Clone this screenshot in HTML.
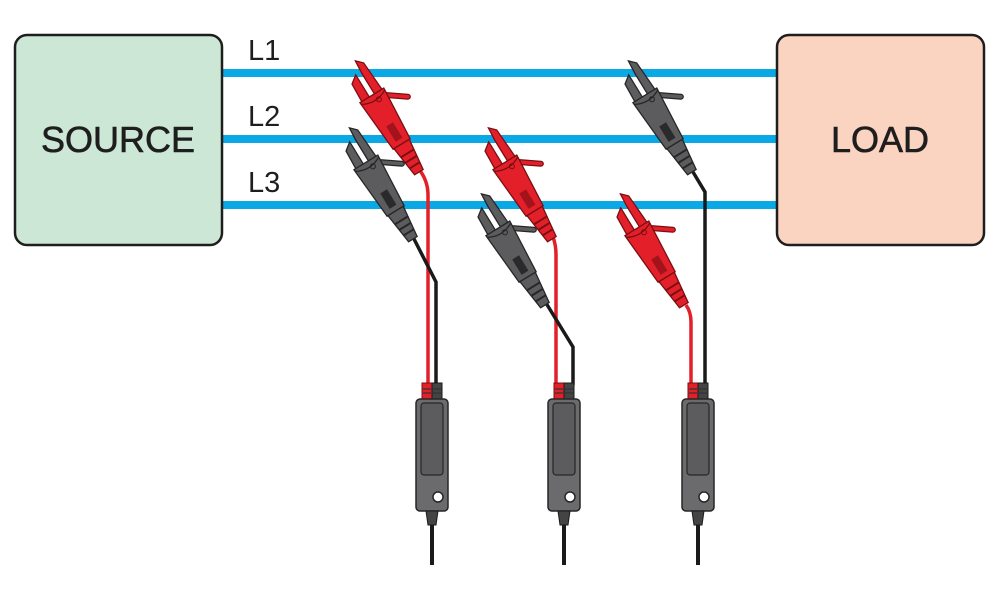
<!DOCTYPE html>
<html><head><meta charset="utf-8"><style>
html,body{margin:0;padding:0;background:#fff;}
svg{display:block;}
text{font-family:"Liberation Sans",Arial,sans-serif;}
</style></head><body>
<svg width="1000" height="600" viewBox="0 0 1000 600" xmlns="http://www.w3.org/2000/svg">
<defs>
<g id="clipR">
  <path d="M0,-4 L6,-10 L42,-12 L42,-3 L14,-3 Z" fill="#e3202a" stroke="#7a0e12" stroke-width="1.3"/>
  <path d="M12,3 L42,3 L42,12 L18,11 Z" fill="#e3202a" stroke="#7a0e12" stroke-width="1.3"/>
  <path d="M42,-8 L58,-30" stroke="#7a0e12" stroke-width="6" stroke-linecap="round"/>
  <path d="M42,-8 L58,-30" stroke="#e3202a" stroke-width="3.5" stroke-linecap="round"/>
  <path d="M38,-14 L95,-10 L95,10 L38,14 Z" fill="#e3202a" stroke="#7a0e12" stroke-width="1.3"/>
  <path d="M40,-14 Q48,0 40,14" fill="none" stroke="#7a0e12" stroke-width="1.3"/>
  <circle cx="45" cy="-4" r="2.5" fill="none" stroke="#7a0e12" stroke-width="1"/>
  <path d="M72,-4 L90,-4 L90,4 L72,4 Z" fill="#a3131b"/>
  <path d="M95,-9 L128,-5 L128,5 L95,9 Z" fill="#e3202a" stroke="#7a0e12" stroke-width="1.3"/>
  <path d="M106,-8 V8 M113,-7 V7 M120,-6 V6" stroke="#7a0e12" stroke-width="2"/>
</g>
<g id="clipG">
  <path d="M0,-4 L6,-10 L42,-12 L42,-3 L14,-3 Z" fill="#5c5c5e" stroke="#262626" stroke-width="1.3"/>
  <path d="M12,3 L42,3 L42,12 L18,11 Z" fill="#5c5c5e" stroke="#262626" stroke-width="1.3"/>
  <path d="M42,-8 L58,-30" stroke="#262626" stroke-width="6" stroke-linecap="round"/>
  <path d="M42,-8 L58,-30" stroke="#5c5c5e" stroke-width="3.5" stroke-linecap="round"/>
  <path d="M38,-14 L95,-10 L95,10 L38,14 Z" fill="#5c5c5e" stroke="#262626" stroke-width="1.3"/>
  <path d="M40,-14 Q48,0 40,14" fill="none" stroke="#262626" stroke-width="1.3"/>
  <circle cx="45" cy="-4" r="2.5" fill="none" stroke="#262626" stroke-width="1"/>
  <path d="M72,-4 L90,-4 L90,4 L72,4 Z" fill="#2a2a2a"/>
  <path d="M95,-9 L128,-5 L128,5 L95,9 Z" fill="#5c5c5e" stroke="#262626" stroke-width="1.3"/>
  <path d="M106,-8 V8 M113,-7 V7 M120,-6 V6" stroke="#262626" stroke-width="2"/>
</g>
<g id="probe">
  <rect x="0" y="0" width="10" height="17" fill="#e3202a" stroke="#7a0e12" stroke-width="1"/>
  <rect x="10" y="0" width="10" height="17" fill="#444" stroke="#1a1a1a" stroke-width="1"/>
  <path d="M1,6 H9 M1,10 H9 M11,6 H19 M11,10 H19" stroke="#333" stroke-width="1.2"/>
  <rect x="-6" y="16" width="32" height="112" rx="4" fill="#6b6b6d" stroke="#262626" stroke-width="1.5"/>
  <rect x="-1" y="20" width="22" height="72" rx="3" fill="#5c5c5e" stroke="#262626" stroke-width="1.2"/>
  <circle cx="16" cy="114" r="5" fill="#fff" stroke="#262626" stroke-width="1.5"/>
  <path d="M4,128 L16,128 L14,142 L6,142 Z" fill="#444" stroke="#1a1a1a" stroke-width="1"/>
  <line x1="10" y1="142" x2="10" y2="182" stroke="#1a1a1a" stroke-width="4"/>
</g>
</defs>

<rect x="222" y="69" width="556" height="8" fill="#0aa9e6"/>
<rect x="222" y="135" width="556" height="8" fill="#0aa9e6"/>
<rect x="222" y="201" width="556" height="8" fill="#0aa9e6"/>

<rect x="15" y="35" width="207" height="210" rx="12" fill="#cde7d6" stroke="#1e1e1e" stroke-width="2.5"/>
<text x="118" y="152" font-size="36" text-anchor="middle" fill="#1e1e1e" stroke="#1e1e1e" stroke-width="0.6">SOURCE</text>
<rect x="777" y="35" width="207" height="210" rx="12" fill="#fbd3c1" stroke="#1e1e1e" stroke-width="2.5"/>
<text x="880" y="152" font-size="36" text-anchor="middle" fill="#1e1e1e" stroke="#1e1e1e" stroke-width="0.6">LOAD</text>
<text x="248" y="60" font-size="29" fill="#1e1e1e">L1</text>
<text x="248" y="126" font-size="29" fill="#1e1e1e">L2</text>
<text x="248" y="192" font-size="29" fill="#1e1e1e">L3</text>

<g fill="none" stroke-width="3.5">
  <path d="M418,168 Q428,180 428,195 V385" stroke="#e3202a"/>
  <path d="M413,237 L436,282 V385" stroke="#1a1a1a"/>
  <path d="M553,237 Q556,245 556,255 V385" stroke="#e3202a"/>
  <path d="M546,303 L573,347 V385" stroke="#1a1a1a"/>
  <path d="M693,172 L705,192 V385" stroke="#1a1a1a"/>
  <path d="M686,305 Q691,312 691,322 V385" stroke="#e3202a"/>
</g>

<use href="#clipR" transform="translate(352,63) rotate(58.5)"/>
<use href="#clipG" transform="translate(346,130) rotate(58.5)"/>
<use href="#clipR" transform="translate(485,130) rotate(58.5)"/>
<use href="#clipG" transform="translate(478,196) rotate(58.5)"/>
<use href="#clipG" transform="translate(625,63) rotate(58.5)"/>
<use href="#clipR" transform="translate(617,196) rotate(58.5)"/>

<use href="#probe" transform="translate(422,383)"/>
<use href="#probe" transform="translate(554,383)"/>
<use href="#probe" transform="translate(688,383)"/>
</svg>
</body></html>
